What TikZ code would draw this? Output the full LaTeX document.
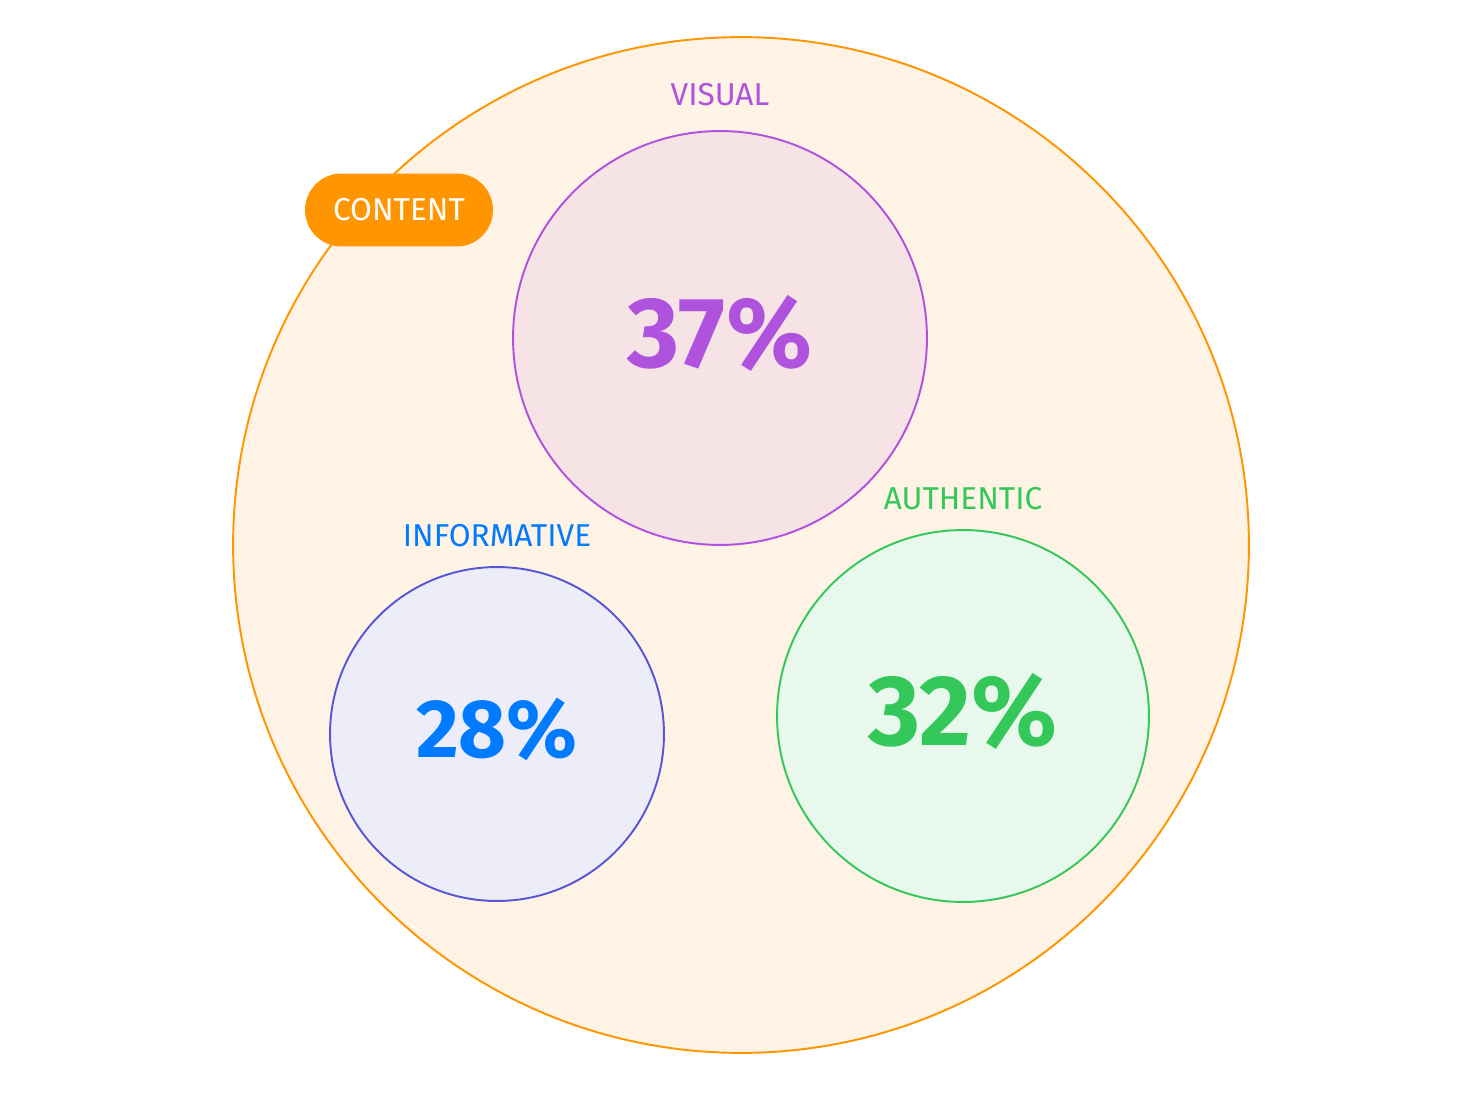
\documentclass[tikz,border=0pt]{standalone}
\usepackage{fontspec}
\setmainfont{Fira Sans}
\usetikzlibrary{positioning}
\definecolor{contentorange}{HTML}{FF9500}
\definecolor{contentfill}{HTML}{FFF3E5}
\definecolor{visualline}{HTML}{AF52DE}
\definecolor{visualfill}{HTML}{F6E3E5}
\definecolor{infoline}{HTML}{5856D6}
\definecolor{infofill}{HTML}{EDEDF9}
\definecolor{infotext}{HTML}{007AFF}
\definecolor{authline}{HTML}{34C759}
\definecolor{authfill}{HTML}{E8F8EC}
\tikzset{
  bubble/.style={circle, draw, line width=1.1pt, inner sep=0pt},
  share/.style={font=\fontsize{#1}{#1}\selectfont\bfseries, text depth=0.26cm},
  tag/.style={font=\fontsize{18}{18}\selectfont}
}
\begin{document}
\begin{tikzpicture}[x=0.02cm,y=-0.02cm]
\useasboundingbox (0,0) rectangle (1484,1092);

\node[bubble, draw=contentorange, fill=contentfill, minimum size=20.32cm] (content) at (741,545) {};

\node[bubble, draw=visualline, fill=visualfill, minimum size=8.28cm,
      text=visualline, share=57] (visual) at (720,338) {37\%};
\node[bubble, draw=infoline, fill=infofill, minimum size=6.68cm,
      text=infotext, share=47] (informative) at (497,734) {28\%};
\node[bubble, draw=authline, fill=authfill, minimum size=7.44cm,
      text=authline, share=57] (authentic) at (963,716) {32\%};

\node[tag, text=visualline, above=0.35cm of visual] (visuallabel) {VISUAL};
\node[tag, text=infotext, above=0.25cm of informative] (infolabel) {INFORMATIVE};
\node[tag, text=authline, above=0.25cm of authentic] (authlabel) {AUTHENTIC};

\node[tag, fill=contentorange, text=white, rounded corners=0.73cm,
      minimum width=3.76cm, minimum height=1.46cm] (contenttag) at (399,210) {CONTENT};
\end{tikzpicture}
\end{document}
